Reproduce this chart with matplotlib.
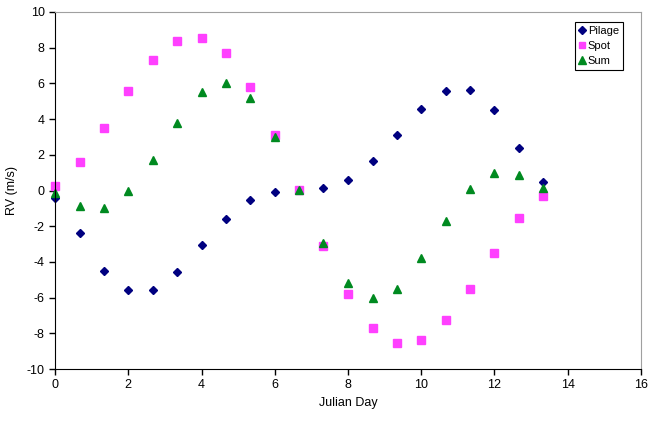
import numpy as np
import matplotlib.pyplot as plt

plt.rcParams['font.family'] = ['Liberation Sans', 'DejaVu Sans']
plt.rcParams['axes.unicode_minus'] = False

# Julian day of each observation
days = [0, 0.67, 1.33, 2, 2.67, 3.33, 4, 4.67, 5.33, 6, 6.67, 7.33,
        8, 8.67, 9.33, 10, 10.67, 11.33, 12, 12.67, 13.33]

plage = [-0.4, -2.4, -4.5, -5.6, -5.6, -4.55, -3.05, -1.6, -0.55, -0.1, 0.05,
         0.15, 0.6, 1.65, 3.1, 4.55, 5.6, 5.65, 4.5, 2.4, 0.45]
spot = [0.25, 1.6, 3.5, 5.55, 7.3, 8.35, 8.55, 7.7, 5.8, 3.1, 0.05,
        -3.1, -5.8, -7.7, -8.55, -8.35, -7.25, -5.5, -3.5, -1.55, -0.3]
rv_sum = [-0.15, -0.85, -1.0, -0.05, 1.7, 3.8, 5.5, 6.05, 5.2, 3.0, 0.05,
          -2.95, -5.2, -6.05, -5.5, -3.8, -1.7, 0.1, 1.0, 0.85, 0.15]

fig = plt.figure(figsize=(6.48, 4.21), dpi=100)
ax = fig.add_axes([0.085, 0.1235, 0.904, 0.848])

ax.plot(days, plage, 'D', color='#000080', markersize=4.5, label='Pilage', clip_on=False)
ax.plot(days, spot, 's', color='#ff40ff', markersize=5.8, label='Spot', clip_on=False)
ax.plot(days, rv_sum, '^', color='#008a20', markersize=6, label='Sum', clip_on=False)

ax.set_xlim(0, 16)
ax.set_ylim(-10, 10)
ax.set_xticks(np.arange(0, 17, 2))
ax.set_yticks(np.arange(-10, 11, 2))
ax.tick_params(labelsize=9, length=4, width=1, direction='out')

ax.spines['top'].set_color('#a0a0a0')
ax.spines['right'].set_color('#a0a0a0')
ax.spines['left'].set_color('black')
ax.spines['bottom'].set_color('black')

ax.set_xlabel('Julian Day', fontsize=9)
ax.set_ylabel('RV (m/s)', fontsize=9, labelpad=6)

leg = ax.legend(loc='upper right', bbox_to_anchor=(0.969, 0.972), fontsize=8,
                handlelength=0.6, handletextpad=0.2, borderpad=0.35,
                labelspacing=0.45, fancybox=False, framealpha=1, borderaxespad=0,
                markerscale=0.85)
leg.get_frame().set_edgecolor('black')
leg.get_frame().set_linewidth(0.8)

plt.savefig('out.png', dpi=100)
